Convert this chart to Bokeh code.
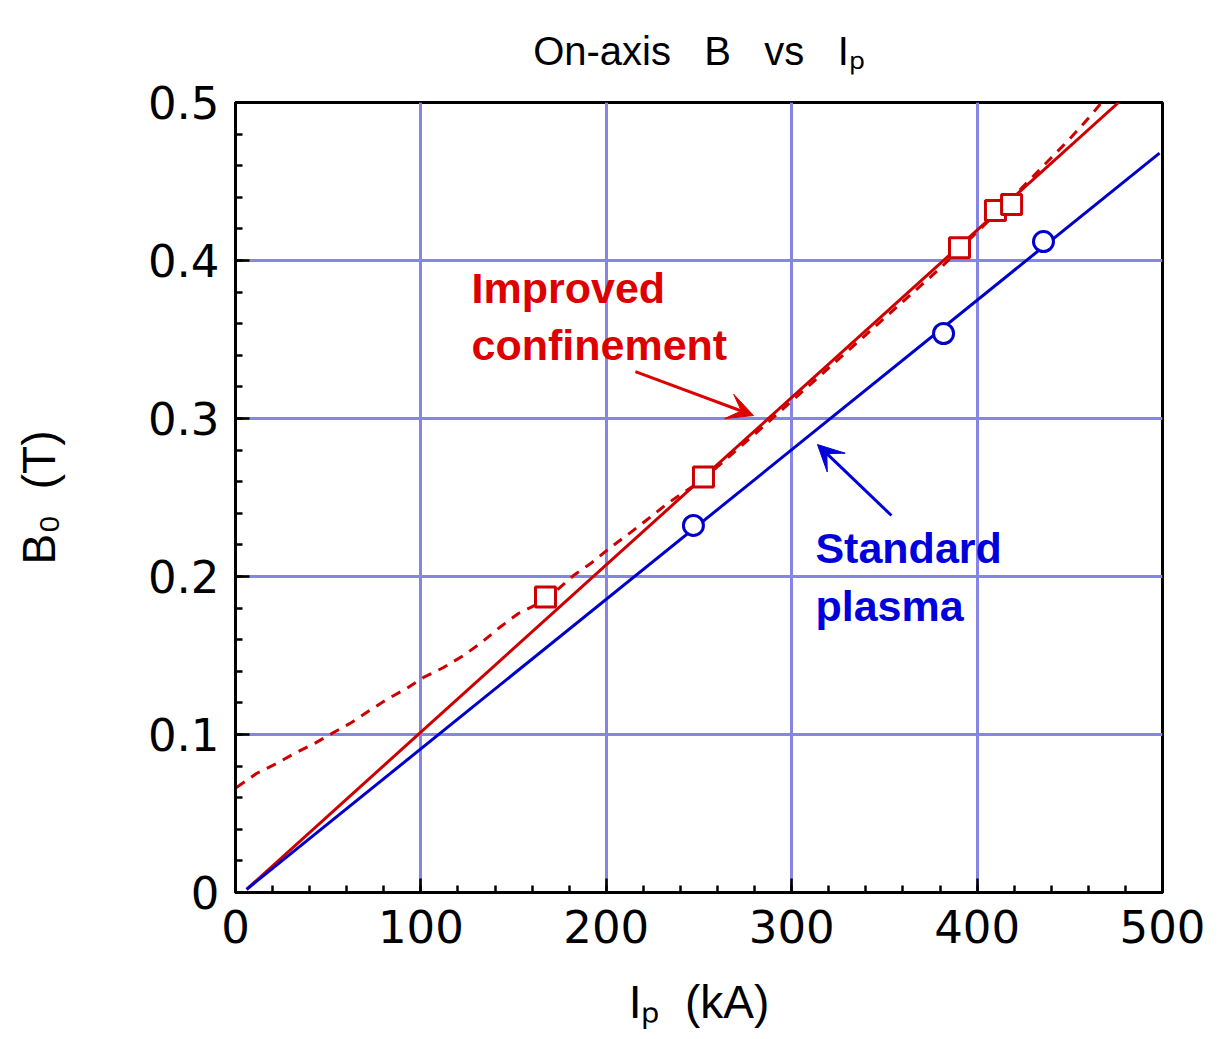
from bokeh.plotting import figure
from bokeh.models import (Range1d, FixedTicker, Label, Arrow, VeeHead)
from bokeh.embed import file_html
from bokeh.resources import INLINE

# ---- data ----
improved_ip = [167.2, 252.4, 390.5, 409.9, 418.6]
improved_b = [0.187, 0.263, 0.408, 0.4316, 0.4354]
standard_ip = [247.0, 381.9, 435.8]
standard_b = [0.2323, 0.3538, 0.412]

improved_fit_ip = [6.0, 476.3]
improved_fit_b = [0.002, 0.500]
standard_fit_ip = [6.0, 498.4]
standard_fit_b = [0.002, 0.468]

trace_ip = [0.5, 11.3, 22.1, 31.8, 42.6, 52.9, 62.6, 72.3, 82.5, 92.2, 101.4, 112.2,
            123.0, 132.7, 142.4, 152.6, 163.4, 173.1, 182.3, 192.3, 202.3, 213.0,
            222.8, 233.0, 241.6, 252.0, 260.0, 280.0, 300.0, 320.0, 340.0, 360.0,
            380.0, 390.0, 400.0, 410.0, 420.0, 430.0, 440.0, 450.0, 460.0, 466.5]
trace_b = [0.0665, 0.0753, 0.0816, 0.0880, 0.0943, 0.1013, 0.1076, 0.1152, 0.1228,
           0.1291, 0.1361, 0.1424, 0.1500, 0.1582, 0.1677, 0.1766, 0.1829, 0.1911,
           0.2006, 0.2089, 0.2184, 0.2278, 0.2367, 0.2462, 0.2532, 0.2610, 0.2695,
           0.2900, 0.3110, 0.3320, 0.3530, 0.3740, 0.3950, 0.4065, 0.4180, 0.4295,
           0.4410, 0.4530, 0.4650, 0.4770, 0.4900, 0.4990]

x_ticks = [0, 100, 200, 300, 400, 500]
x_minor = [v for v in range(0, 501, 20)]
y_ticks = [0, 0.1, 0.2, 0.3, 0.4, 0.5]
y_tick_labels = ["0", "0.1", "0.2", "0.3", "0.4", "0.5"]
y_minor = [i / 50 for i in range(0, 26)]

NB = "\u00a0"
RED = "#cc0000"
RED_TXT = "#dd0000"
BLUE = "#0000cc"
BLUE_TXT = "#0000dd"
GRID = "#8585e6"

p = figure(width=1224, height=1039, x_range=Range1d(0, 500), y_range=Range1d(0, 0.5),
           output_backend="svg", toolbar_location=None,
           min_border_left=235, min_border_right=62, min_border_top=102,
           min_border_bottom=147)
p.outline_line_color = "black"
p.outline_line_width = 3
p.background_fill_color = "white"
p.border_fill_color = "white"

p.title.text = "On-axis" + NB * 3 + "B" + NB * 3 + "vs" + NB * 3 + "I\u209a"
p.title.text_font = "Liberation Sans"
p.title.text_font_style = "normal"
p.title.text_font_size = "40px"
p.title.align = "center"
p.title.vertical_align = "top"
p.title.text_color = "black"
p.title.standoff = 55

for ax, ticks, minor in ((p.xaxis[0], x_ticks, x_minor), (p.yaxis[0], y_ticks, y_minor)):
    ax.ticker = FixedTicker(ticks=ticks, minor_ticks=minor)
    ax.axis_line_width = 3
    ax.axis_line_color = "black"
    ax.major_tick_in = 14
    ax.major_tick_out = 0
    ax.minor_tick_in = 7
    ax.minor_tick_out = 0
    ax.major_tick_line_width = 2.5
    ax.minor_tick_line_width = 2.5
    ax.major_label_text_font = "DejaVu Sans"
    ax.major_label_text_font_size = "45px"
    ax.major_label_text_color = "black"
    ax.axis_label_text_font = "Liberation Sans"
    ax.axis_label_text_font_style = "normal"
    ax.axis_label_text_font_size = "46px"
    ax.axis_label_text_color = "black"

p.xaxis[0].major_label_standoff = 17
p.yaxis[0].major_label_standoff = 16
p.yaxis[0].major_label_overrides = {v: s for v, s in zip(y_ticks, y_tick_labels)}
p.xaxis[0].axis_label = "I\u209a" + NB * 2 + "(kA)"
p.yaxis[0].axis_label = "B\u2080" + NB * 2 + "(T)"
p.xaxis[0].axis_label_standoff = 30
p.yaxis[0].axis_label_standoff = 80

p.xgrid.grid_line_color = GRID
p.ygrid.grid_line_color = GRID
p.xgrid.grid_line_width = 3
p.ygrid.grid_line_width = 3
p.xgrid.ticker = FixedTicker(ticks=x_ticks)
p.ygrid.ticker = FixedTicker(ticks=y_ticks)

# lines
p.line(trace_ip, trace_b, line_color=RED, line_width=3, line_dash="10 8")
p.line(improved_fit_ip, improved_fit_b, line_color=RED, line_width=3)
p.line(standard_fit_ip, standard_fit_b, line_color=BLUE, line_width=3)

# markers
p.scatter(improved_ip, improved_b, marker="square", size=20, line_color=RED,
          line_width=3, fill_color="white")
p.scatter(standard_ip, standard_b, marker="circle", size=20, line_color=BLUE,
          line_width=3, fill_color="white")

# annotations in the plot
def dlabel(x, y, text, color, size="43px"):
    p.add_layout(Label(x=x, y=y, text=text, text_color=color, text_font="Liberation Sans",
                       text_font_style="bold", text_font_size=size,
                       text_baseline="alphabetic", text_align="left"))

dlabel(127.3, 0.3828, "Improved", RED_TXT)
dlabel(127.3, 0.3467, "confinement", RED_TXT)
dlabel(312.8, 0.2178, "Standard", BLUE_TXT)
dlabel(312.8, 0.1811, "plasma", BLUE_TXT)

p.add_layout(Arrow(x_start=215.7, y_start=0.3297, x_end=279.4, y_end=0.3019,
                   line_color=RED_TXT, line_width=3,
                   end=VeeHead(size=26, fill_color=RED_TXT, line_color=RED_TXT)))
p.add_layout(Arrow(x_start=353.8, y_start=0.2386, x_end=313.9, y_end=0.2835,
                   line_color=BLUE_TXT, line_width=3,
                   end=VeeHead(size=26, fill_color=BLUE_TXT, line_color=BLUE_TXT)))

open("out.html", "w").write(file_html(p, INLINE))
